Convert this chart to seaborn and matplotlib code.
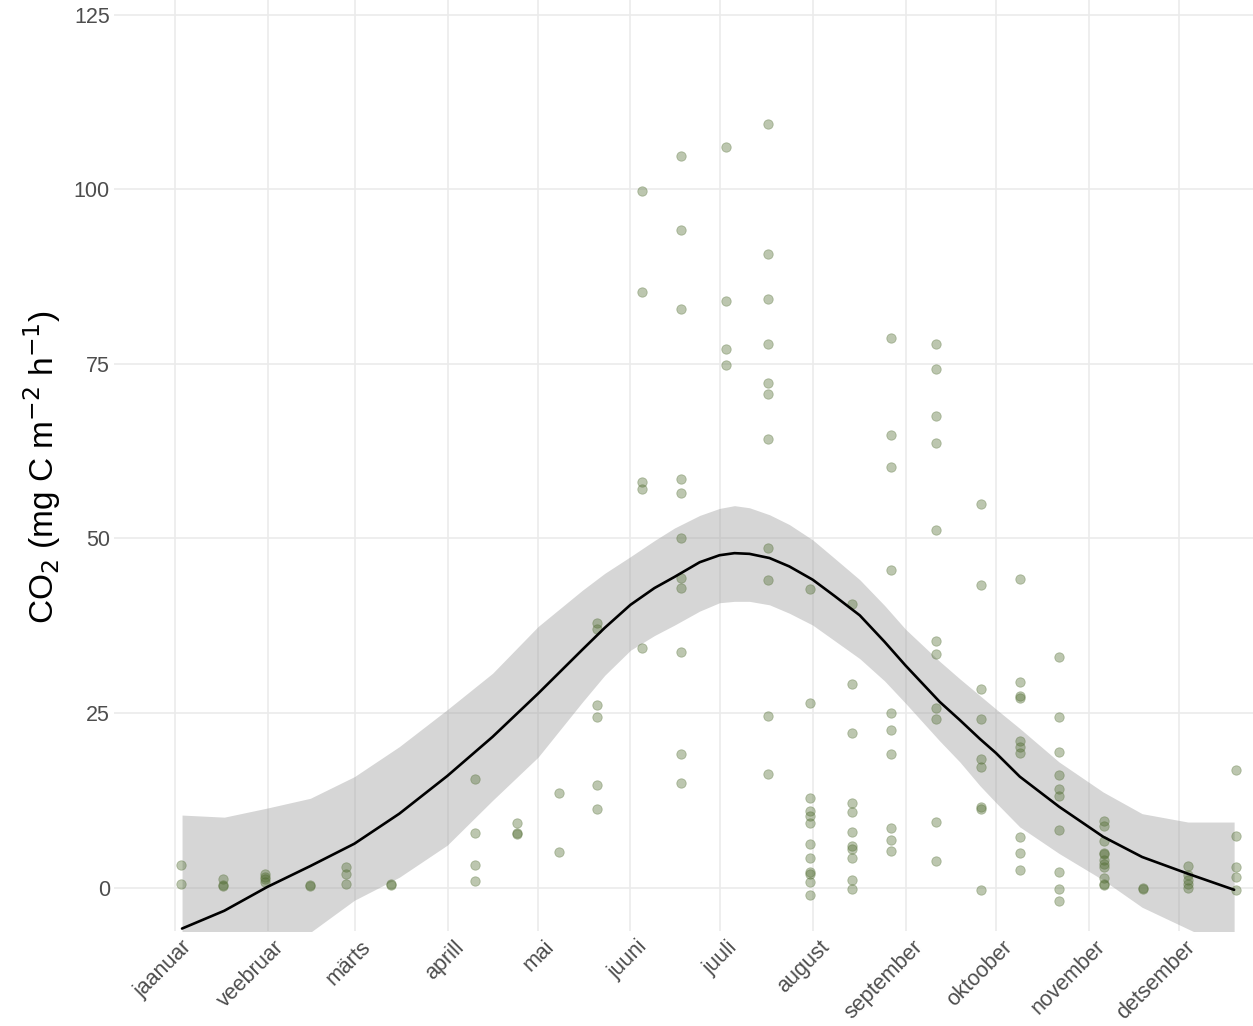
import pandas as pd
import seaborn as sns
import matplotlib.pyplot as plt
from matplotlib.transforms import ScaledTranslation

# Mõõtmiskuupäevad ja CO2 vood (mg C m-2 h-1), loetud jooniselt
kuupaevad = ['2020-01-03', '2020-01-17', '2020-01-31', '2020-02-15', '2020-02-27',
             '2020-03-13', '2020-04-10', '2020-04-24', '2020-05-08', '2020-05-21',
             '2020-06-05', '2020-06-18', '2020-07-03', '2020-07-17', '2020-07-31',
             '2020-08-14', '2020-08-27', '2020-09-11', '2020-09-26', '2020-10-09',
             '2020-10-22', '2020-11-06', '2020-11-19', '2020-12-04', '2020-12-20']
co2 = [
    [3.2, 0.5],
    [1.3, 0.4, 0.3],
    [2.0, 1.6, 1.2, 0.8],
    [0.4, 0.3],
    [2.9, 1.9, 0.5],
    [0.6, 0.4],
    [15.6, 7.8, 3.2, 0.9],
    [9.3, 7.9, 7.7],
    [13.6, 5.1],
    [37.9, 37.0, 26.1, 24.4, 14.7, 11.2],
    [99.8, 85.3, 58.1, 57.1, 34.3],
    [104.8, 94.1, 82.8, 58.5, 56.5, 50.0, 44.4, 42.9, 33.7, 19.2, 15.0],
    [106.1, 84.0, 77.2, 74.9],
    [109.4, 90.7, 84.3, 77.8, 72.2, 70.7, 64.2, 48.7, 44.1, 24.6, 16.3],
    [42.8, 26.4, 12.9, 11.0, 10.2, 9.2, 6.3, 4.3, 2.3, 2.0, 0.8, -1.1],
    [40.6, 29.1, 22.1, 12.1, 10.9, 8.0, 5.9, 5.5, 4.3, 1.1, -0.2],
    [78.7, 64.8, 60.2, 45.5, 25.0, 22.6, 19.2, 8.5, 6.8, 5.2],
    [77.8, 74.3, 67.6, 63.6, 51.2, 35.3, 33.4, 25.7, 24.1, 9.4, 3.8],
    [55.0, 43.3, 28.4, 24.1, 18.4, 17.3, 11.6, 11.3, -0.3],
    [44.2, 29.5, 27.5, 27.2, 21.0, 20.2, 19.3, 7.2, 4.9, 2.6],
    [33.1, 24.4, 19.5, 16.1, 14.1, 13.2, 8.2, 2.3, -0.2, -1.9],
    [9.6, 8.8, 6.7, 5.0, 4.8, 3.9, 3.4, 2.9, 1.4, 0.6, 0.4],
    [-0.1, -0.2],
    [3.1, 1.8, 1.1, 0.5, 0.0],
    [16.9, 7.4, 2.9, 1.5, -0.3],
]

# Silutud kõver ja usaldusvahemik (päevad alates 1. jaanuarist), loetud jooniselt
silu_paev = [2.4, 16.5, 30.8, 45.2, 59.9, 74.9, 90.9, 106.0, 121.2, 136.0, 143.4,
             152.0, 160.0, 166.7, 175.1, 181.7, 186.7, 191.7, 198.4, 205.0, 212.8,
             220.0, 228.5, 236.8, 243.8, 255.2, 261.9, 268.6, 273.9, 281.9, 295.0,
             309.7, 322.7, 338.0, 353.4]
silu_fit = [-5.85, -3.3, 0.1, 3.1, 6.3, 10.6, 16.0, 21.6, 27.8, 34.1, 37.2,
            40.5, 42.9, 44.5, 46.6, 47.6, 47.9, 47.8, 47.2, 46.0, 44.1,
            41.8, 39.0, 35.2, 31.8, 26.6, 24.0, 21.3, 19.3, 15.9, 11.6,
            7.3, 4.4, 2.0, -0.3]
silu_ala = [-22, -17, -11.5, -6.4, -1.8, 1.5, 6.1, 12.5, 18.7, 26.6, 30.4,
            34.0, 36.1, 37.6, 39.6, 40.8, 41.0, 41.0, 40.5, 39.3, 37.6,
            35.4, 32.8, 29.6, 26.4, 21.0, 18.0, 14.6, 12.2, 8.7, 4.9,
            1.1, -2.8, -5.9, -9.0]
silu_ula = [10.4, 10.1, 11.4, 12.8, 15.9, 20.2, 25.5, 30.7, 37.4, 42.6, 45.0,
            47.4, 49.7, 51.5, 53.3, 54.3, 54.7, 54.4, 53.4, 52.0, 49.8,
            47.2, 44.1, 40.4, 37.0, 32.4, 29.9, 27.5, 25.6, 22.8, 18.0,
            13.7, 10.6, 9.4, 9.4]

kuud = ['jaanuar', 'veebruar', 'märts', 'aprill', 'mai', 'juuni', 'juuli',
        'august', 'september', 'oktoober', 'november', 'detsember']

algus = pd.Timestamp('2020-01-01')

punktid = pd.DataFrame({
    'kuupaev': [pd.Timestamp(k) for k, v in zip(kuupaevad, co2) for _ in v],
    'co2': [x for v in co2 for x in v],
})
silu = pd.DataFrame({
    'kuupaev': [algus + pd.Timedelta(days=d) for d in silu_paev],
    'fit': silu_fit, 'ala': silu_ala, 'ula': silu_ula,
})

sns.set_style("whitegrid")
plt.rcParams['font.family'] = ['Liberation Sans', 'DejaVu Sans']

fig = plt.figure(figsize=(12.53, 10.26), dpi=100)
ax = fig.add_axes([114 / 1253, 95 / 1026, 1 - 114 / 1253, 931 / 1026])

sns.scatterplot(data=punktid, x='kuupaev', y='co2', color='#4f6b2f', alpha=0.38,
                s=46, edgecolor='#4f6b2f', linewidth=0.6, ax=ax, zorder=3)
ax.fill_between(silu['kuupaev'], silu['ala'], silu['ula'], color='#999999',
                alpha=0.4, linewidth=0, zorder=2)
sns.lineplot(data=silu, x='kuupaev', y='fit', color='black', linewidth=1.9,
             ax=ax, zorder=4)

kuu_algused = pd.date_range('2020-01-01', periods=12, freq='MS')
ax.set_xticks(kuu_algused)
ax.set_xticklabels(kuud, rotation=45, ha='right', va='top', rotation_mode='anchor')
ax.set_yticks([0, 25, 50, 75, 100, 125])
ax.set_xlim(algus - pd.Timedelta(days=20.3), algus + pd.Timedelta(days=359.7))
ax.set_ylim(-6.2, 127.1)

ax.tick_params(axis='both', length=0, labelsize=15.5, colors='#4d4d4d')
ax.tick_params(axis='y', pad=3)
ax.tick_params(axis='x', pad=4)
nihe = ScaledTranslation(0.06, 0, fig.dpi_scale_trans)
for lbl in ax.get_xticklabels():
    lbl.set_transform(lbl.get_transform() + nihe)

ax.grid(True, color='#ebebeb', linewidth=1.2)
for s in ax.spines.values():
    s.set_visible(False)
ax.set_xlabel('')
ax.set_ylabel('')
fig.text(42 / 1253, 0.545, r'CO$_2$ (mg C m$^{-2}$ h$^{-1}$)', rotation=90,
         ha='center', va='center', fontsize=24, color='black')

fig.savefig('out.png', dpi=100)
